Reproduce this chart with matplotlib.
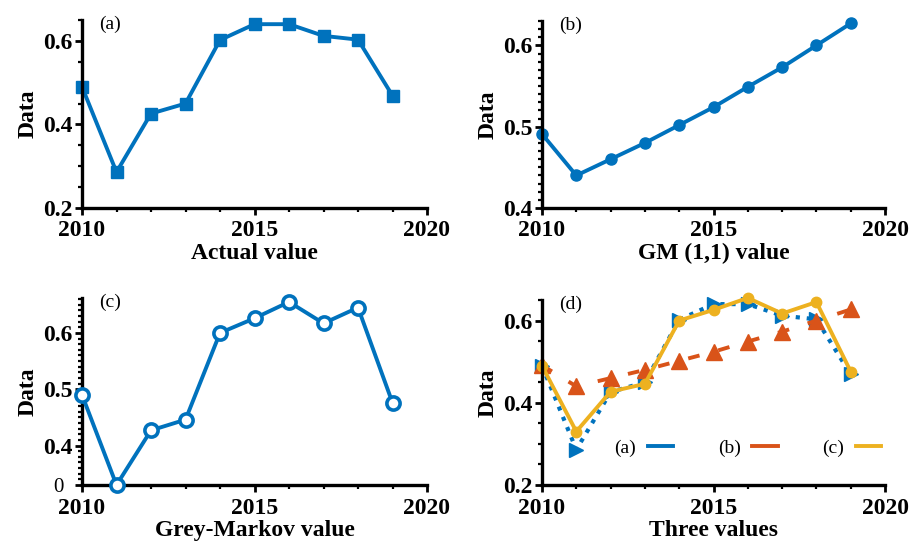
import matplotlib
matplotlib.use("Agg")
import matplotlib.pyplot as plt
from matplotlib.ticker import MultipleLocator, FixedLocator

plt.rcParams["font.family"] = ["Liberation Serif", "DejaVu Serif"]

years = [2010, 2011, 2012, 2013, 2014, 2015, 2016, 2017, 2018, 2019]
actual = [0.490, 0.286, 0.426, 0.450, 0.602, 0.640, 0.640, 0.612, 0.603, 0.469]
gm11 = [0.491, 0.440, 0.460, 0.480, 0.502, 0.524, 0.549, 0.573, 0.600, 0.627]
markov = [0.490, 0.330, 0.427, 0.446, 0.600, 0.626, 0.655, 0.617, 0.645, 0.476]

xlabels = ["Actual value", "GM (1,1) value", "Grey-Markov value", "Three values"]
panel_tags = ["(a)", "(b)", "(c)", "(d)"]
legend_labels = ["(a)", "(b)", "(c)"]

BLUE = "#0072BD"
ORANGE = "#D95319"
YELLOW = "#EDB120"

W, H = 910, 551
fig = plt.figure(figsize=(W / 100, H / 100), dpi=100)


def box(l, r, t, b):
    return [l / W, 1 - b / H, (r - l) / W, (b - t) / H]


axes = [fig.add_axes(box(82, 427, 20, 208)),
        fig.add_axes(box(542, 885, 21, 208)),
        fig.add_axes(box(82, 427, 298, 485)),
        fig.add_axes(box(542, 885, 300, 485))]

ax = axes[0]
ax.plot(years, actual, color=BLUE, lw=2.8, marker="s", ms=8.5, mfc=BLUE,
        mec=BLUE, clip_on=False)
ax.set_ylim(0.2, 0.65)
ax.set_yticks([0.2, 0.4, 0.6], ["0.2", "0.4", "0.6"])
ax.yaxis.set_minor_locator(MultipleLocator(0.05))

ax = axes[1]
ax.plot(years, gm11, color=BLUE, lw=2.8, marker="o", ms=8, mfc=BLUE,
        mec=BLUE, clip_on=False)
ax.set_ylim(0.4, 0.63)
ax.set_yticks([0.4, 0.5, 0.6], ["0.4", "0.5", "0.6"])
ax.yaxis.set_minor_locator(MultipleLocator(0.01))

ax = axes[2]
ax.plot(years, markov, color=BLUE, lw=2.8, marker="o", ms=9.5, mfc="white",
        mec=BLUE, mew=2.6, clip_on=False, zorder=5)
ax.set_ylim(0.33, 0.662)
ax.set_yticks([0.33, 0.4, 0.5, 0.6], ["", "0.4", "0.5", "0.6"])
ax.yaxis.set_minor_locator(FixedLocator([0.33 + 0.01 * i for i in range(34)]))
# the odd bottom label of panel (c), regular weight and set off to the left
fig.text(58 / W, 1 - 487 / H, "0", fontsize=15, ha="center", va="center")

ax = axes[3]
ax.plot(years, actual, color=BLUE, lw=3, ls=":", marker=">", ms=10,
        clip_on=False)
ax.plot(years, gm11, color=ORANGE, lw=2.8, ls=(0, (3, 5)), marker="^",
        ms=12, clip_on=False)
ax.plot(years, markov, color=YELLOW, lw=2.8, marker="o", ms=7.5,
        clip_on=False)
ax.set_ylim(0.2, 0.65)
ax.set_yticks([0.2, 0.4, 0.6], ["0.2", "0.4", "0.6"])
ax.yaxis.set_minor_locator(MultipleLocator(0.05))
h = [plt.Line2D([], [], color=c, lw=2.8) for c in (BLUE, ORANGE, YELLOW)]
ax.legend(h, legend_labels, ncol=3, frameon=False, markerfirst=False,
          handlelength=1.3, handletextpad=0.6, columnspacing=2.3,
          prop={"size": 14}, loc="center", bbox_to_anchor=(0.6, 0.2))

for i, ax in enumerate(axes):
    ax.set_xlim(2010, 2020)
    ax.set_xticks([2010, 2015, 2020])
    ax.xaxis.set_minor_locator(MultipleLocator(1))
    ax.spines["top"].set_visible(False)
    ax.spines["right"].set_visible(False)
    for s in ("left", "bottom"):
        ax.spines[s].set_linewidth(2.4)
    ax.tick_params(which="major", direction="out", length=5, width=2,
                   labelsize=17, pad=2)
    ax.tick_params(axis="x", which="major", pad=4)
    ax.tick_params(which="minor", direction="out", length=3, width=1.6)
    for lab in ax.get_xticklabels() + ax.get_yticklabels():
        lab.set_fontweight("bold")
    ax.set_xlabel(xlabels[i], fontsize=17, fontweight="bold", labelpad=1)
    ax.set_ylabel("Data", fontsize=17, fontweight="bold", labelpad=3)
    ax.text(0.05, 0.975, panel_tags[i], transform=ax.transAxes, fontsize=14,
            ha="left", va="center")

fig.savefig("out.png", dpi=100)
